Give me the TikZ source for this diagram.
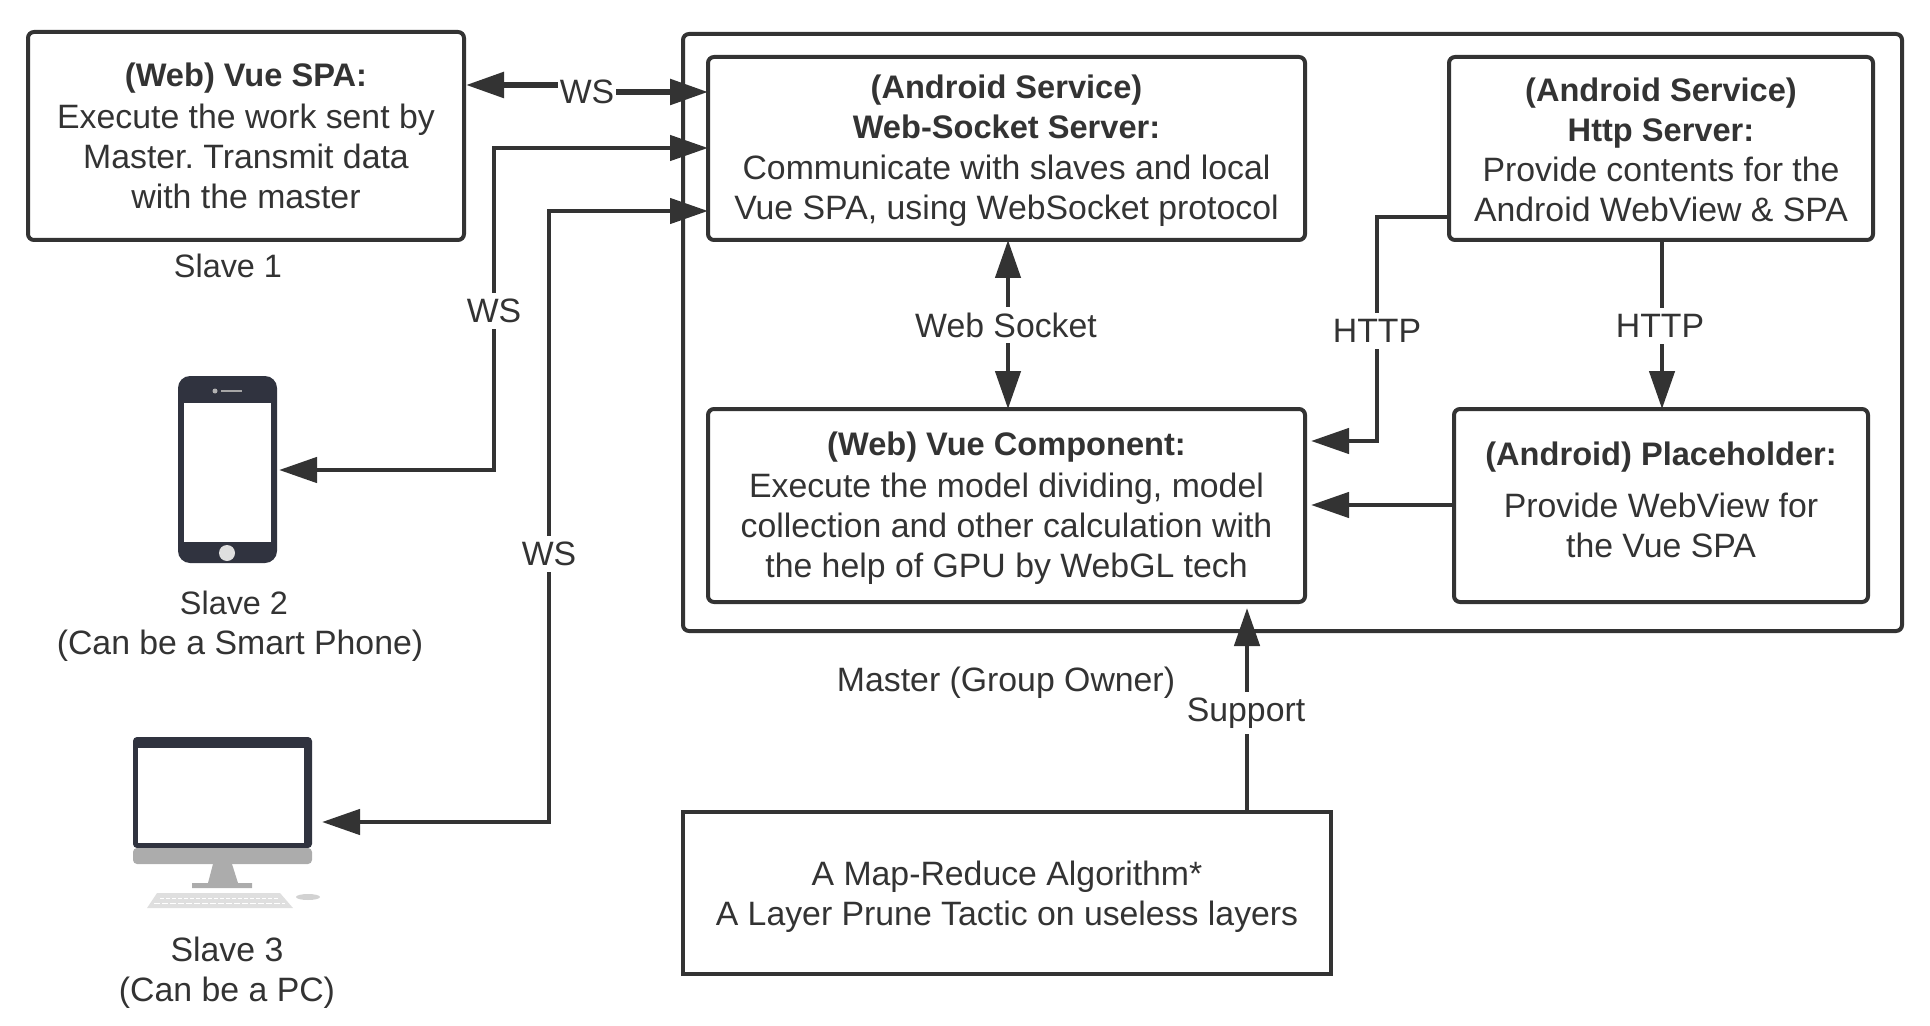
\documentclass[tikz,border=0pt]{standalone}
\usepackage{fontspec}
\setmainfont{Liberation Sans}
\usetikzlibrary{arrows.meta,calc}
\definecolor{ink}{HTML}{333333}
\definecolor{dev}{HTML}{30333F}
\newcommand{\hd}[1]{{\fontsize{16.3}{20}\selectfont\textbf{#1}}}
\newcommand{\topgap}[1]{\rule{0pt}{#1pt}}
\tikzset{
  box/.style={draw=ink,line width=2pt,rounded corners=3pt,inner sep=0pt,outer sep=0pt,align=center,text=ink,font=\fontsize{16.9}{20}\selectfont\frenchspacing},
  sqbox/.style={box,rounded corners=0pt},
  txt/.style={text=ink,align=center,inner sep=0pt,font=\fontsize{16.9}{20}\selectfont},
  lbl/.style={txt,fill=white,inner xsep=1pt,inner ysep=3pt},
  conn/.style={draw=ink,line width=2.3pt,line join=miter},
  head/.tip={Triangle[length=19pt,width=12.5pt]},
}
\begin{document}
\begin{tikzpicture}[x=.5pt,y=-.5pt]
\useasboundingbox (0,0) rectangle (1930,1026);
% frames
\node[box,minimum width=609.5pt,minimum height=298.5pt] (master) at (1292.5,332.5) {};
\node[box,minimum width=218pt,minimum height=104pt] (s1) at (246,136) {\hd{(Web) Vue SPA:}\\[1pt]Execute the work sent by\\Master. Transmit data\\with the master};
\node[box,minimum width=298.5pt,minimum height=91.5pt] (ws) at (1006.5,148.5) {\topgap{14.5}\hd{(Android Service)}\\\hd{Web-Socket Server:}\\[.5pt]Communicate with slaves and local\\Vue SPA, using WebSocket protocol};
\node[box,minimum width=212pt,minimum height=91.5pt] (http) at (1661,148.5) {\topgap{13}\hd{(Android Service)}\\\hd{Http Server:}\\Provide contents for the\\Android WebView \& SPA};
\node[box,minimum width=298.5pt,minimum height=96.5pt] (vue) at (1006.5,505.5) {\topgap{15}\hd{(Web) Vue Component:}\\[1pt]Execute the model dividing, model\\collection and other calculation with\\the help of GPU by WebGL tech};
\node[box,minimum width=207pt,minimum height=96.5pt] (ph) at (1661,505.5) {\hd{(Android) Placeholder:}\\[6pt]Provide WebView for\\the Vue SPA\\[-14pt]\mbox{}};
\node[sqbox,minimum width=324pt,minimum height=81pt] (algo) at (1007,893) {\topgap{16}A Map-Reduce Algorithm*\\A Layer Prune Tactic on useless layers};
% phone
\node[fill=dev,rounded corners=6pt,minimum width=49.5pt,minimum height=93.5pt,inner sep=0pt,outer sep=0pt] (phone) at (227.5,469.5) {};
\fill[white] (184,403) rectangle (271,542);
\fill[gray!60!white] (215,391) circle (2.5);
\draw[gray!70!white,line width=1pt] (221,391) -- (242,391);
\fill[gray!25!white] (227,553) circle (8);
% monitor
\node[fill=dev,rounded corners=2pt,minimum width=89.5pt,minimum height=55.5pt,inner sep=0pt,outer sep=0pt] (pc) at (222.5,792.5) {};
\fill[white] (138,748) rectangle (304,843);
\fill[gray!65!white,rounded corners=2pt] (133,848) rectangle (312,864);
\fill[gray!65!white] (213,864) -- (232,864) -- (238,883) -- (252,883) -- (252,888) -- (192,888) -- (192,883) -- (208,883) -- cycle;
\fill[gray!25!white] (157,893) -- (280,893) -- (293,908) -- (147,908) -- cycle;
\draw[white,line width=.5pt,dash pattern=on 2pt off 1pt] (160,898) -- (278,898);
\draw[white,line width=.5pt,dash pattern=on 3pt off 1pt] (154,903) -- (285,903);
\fill[gray!35!white] (308,897) ellipse (12 and 3);
% connectors
\draw[conn,line width=2.8pt,{head}-{head}] ([xshift=1pt]s1.east |- 0,85) -- (587,85) -- (587,92) -- (ws.west |- 0,92);
\draw[conn,{head}-{head}] ([xshift=1pt]phone.east |- 0,470) -| (494,148) -- (ws.west |- 0,148);
\draw[conn,{head}-{head}] ([xshift=5pt]pc.east |- 0,822) -| (549,211) -- (ws.west |- 0,211);
\draw[conn,{head}-{head}] (ws.south -| 1008,0) -- (vue.north -| 1008,0);
\draw[conn,-{head}] (http.west |- 0,217) -| (1377,441) -- ([xshift=3pt]vue.east |- 0,441);
\draw[conn,-{head}] (http.south -| 1662,0) -- (ph.north -| 1662,0);
\draw[conn,-{head}] (ph.west |- 0,505) -- ([xshift=3pt]vue.east |- 0,505);
\draw[conn,-{head}] (algo.north -| 1247,0) -- ([yshift=-3pt]vue.south -| 1247,0);
% labels
\node[lbl] (l1) at (587,92) {WS};
\node[lbl] (l2) at (494,311) {WS};
\node[lbl] (l3) at (549,554) {WS};
\node[lbl] (l4) at (1006,325) {Web Socket};
\node[lbl] (l5) at (1377,331) {HTTP};
\node[lbl] (l6) at (1660,326) {HTTP};
\node[lbl] (l7) at (1246,713) {Support};
\node[txt,font=\fontsize{16.2}{20}\selectfont] (t1) at (228,266) {Slave 1};
\node[txt,font=\fontsize{16.2}{20}\selectfont] (t2a) at (234,603) {Slave 2};
\node[txt] (t2b) at (240,646) {(Can be a Smart Phone)};
\node[txt] (t3) at (227,973) {Slave 3\\(Can be a PC)};
\node[txt] (t4) at (1006,683) {Master (Group Owner)};
\end{tikzpicture}
\end{document}
